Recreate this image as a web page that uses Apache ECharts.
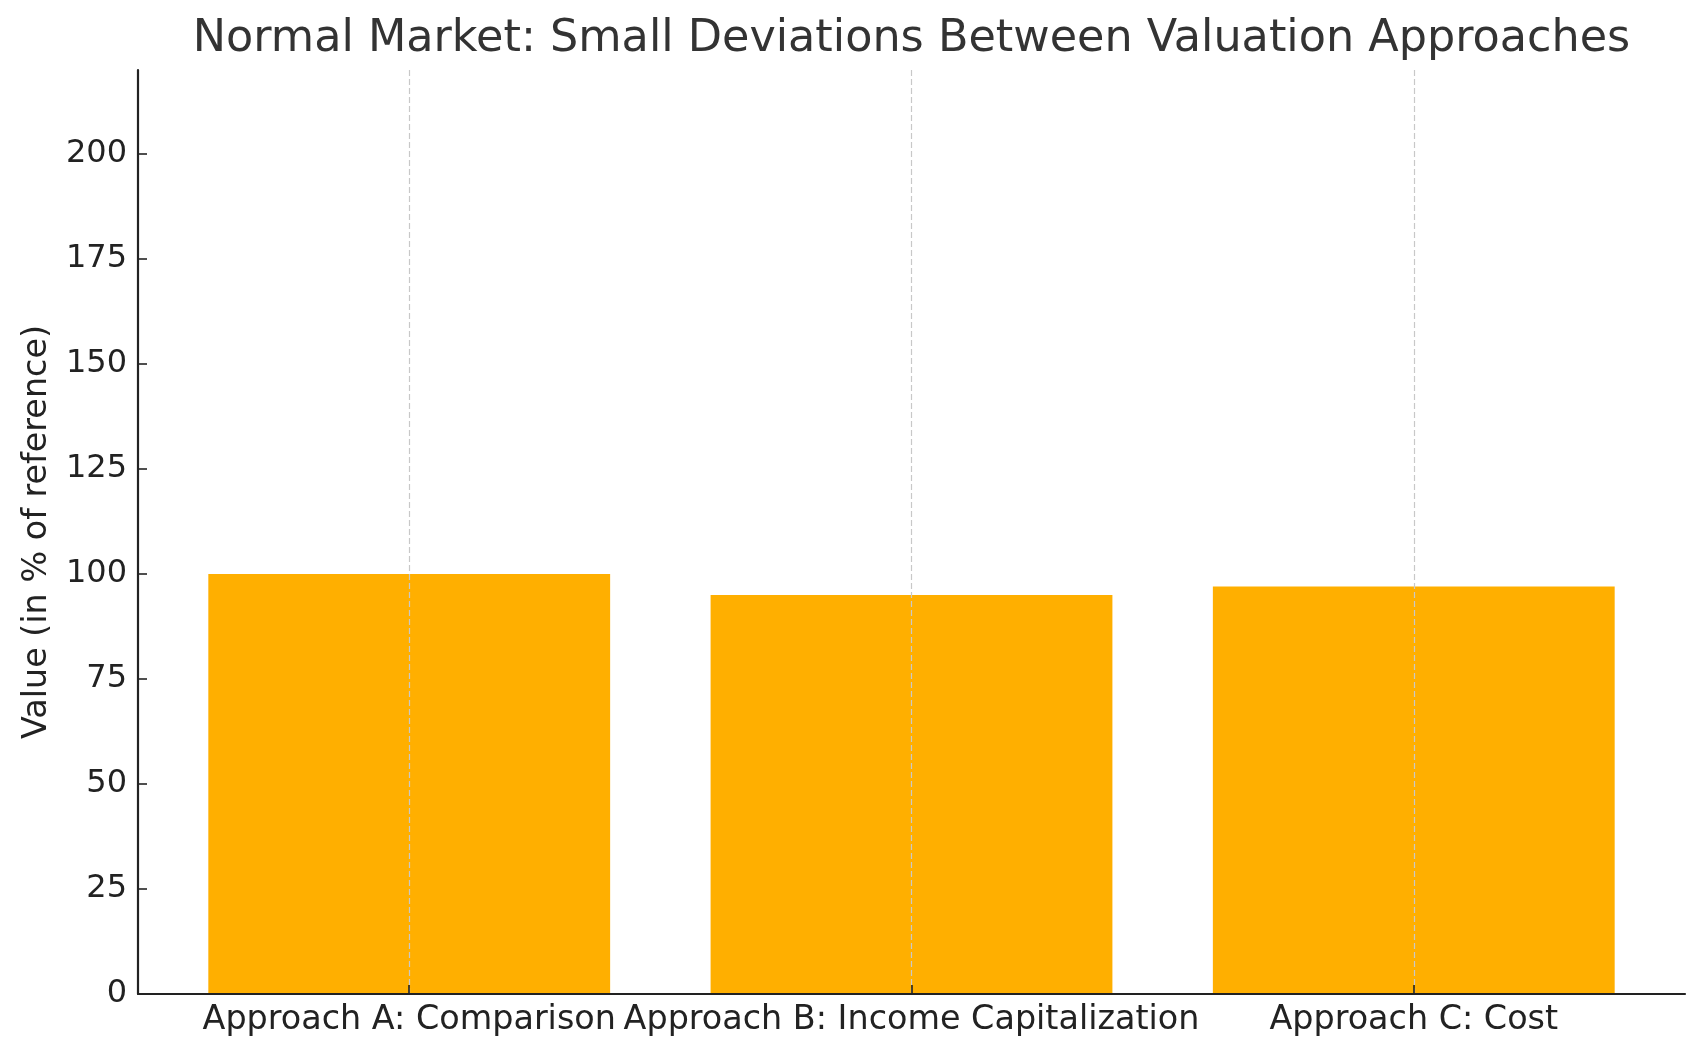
<!DOCTYPE html>
<html>
<head>
<meta charset="utf-8">
<script src="https://cdn.jsdelivr.net/npm/echarts@6/dist/echarts.min.js"></script>
<style>
html,body{margin:0;padding:0;background:#fff;}
#chart{width:1707px;height:1057px;}
</style>
</head>
<body>
<div id="chart"></div>
<script>
const categories = ['Approach A: Comparison', 'Approach B: Income Capitalization', 'Approach C: Cost'];
const values = [100, 95, 97];
const yTicks = [0, 25, 50, 75, 100, 125, 150, 175, 200];
const titleText = 'Normal Market: Small Deviations Between Valuation Approaches';
const yAxisName = 'Value (in % of reference)';

const W = 1707, H = 1057;
const gridLeft = 138, gridRight = 22, gridTop = 70, gridBottom = 63;
const xMin = -0.54, xMax = 2.54;
const gridW = W - gridLeft - gridRight;
const barW = 0.8 * gridW / (xMax - xMin);
const font = 'DejaVu Sans';

const chart = echarts.init(document.getElementById('chart'), null, {renderer: 'canvas'});
chart.setOption({
  backgroundColor: '#ffffff',
  animation: false,
  graphic: [{
    type: 'text',
    x: gridLeft + gridW / 2,
    y: 39,
    style: {
      text: titleText,
      fontFamily: font,
      fontSize: 44.5,
      fill: '#333333',
      align: 'center',
      verticalAlign: 'middle'
    }
  }],
  grid: {left: gridLeft, right: gridRight, top: gridTop, bottom: gridBottom, containLabel: false},
  xAxis: {
    type: 'value',
    min: xMin,
    max: xMax,
    z: 5,
    axisLine: {show: true, onZero: false, lineStyle: {color: '#222', width: 2.2}},
    axisTick: {show: true, customValues: [0, 1, 2], length: 9, inside: true, lineStyle: {color: '#222', width: 1.6}},
    axisLabel: {
      customValues: [0, 1, 2],
      formatter: v => categories[Math.round(v)] || '',
      fontFamily: font, fontSize: 33.4, color: '#222', margin: 10
    },
    splitLine: {show: true, lineStyle: {color: '#c8c8c8', type: [6, 3], width: 1.2}}
  },
  yAxis: {
    type: 'value',
    min: 0,
    max: 220,
    name: yAxisName,
    nameLocation: 'middle',
    nameGap: 84,
    nameTextStyle: {fontFamily: font, fontSize: 33.4, color: '#222'},
    axisLine: {show: true, onZero: false, lineStyle: {color: '#222', width: 2.2}},
    axisTick: {show: true, customValues: yTicks, length: 9, inside: true, lineStyle: {color: '#222', width: 1.6}},
    axisLabel: {customValues: yTicks, fontFamily: font, fontSize: 32, color: '#222', margin: 11},
    splitLine: {show: false}
  },
  series: [{
    type: 'bar',
    data: values.map((v, i) => [i, v]),
    barWidth: barW,
    itemStyle: {color: '#FFAF00'},
    z: 2
  }]
});
</script>
</body>
</html>
